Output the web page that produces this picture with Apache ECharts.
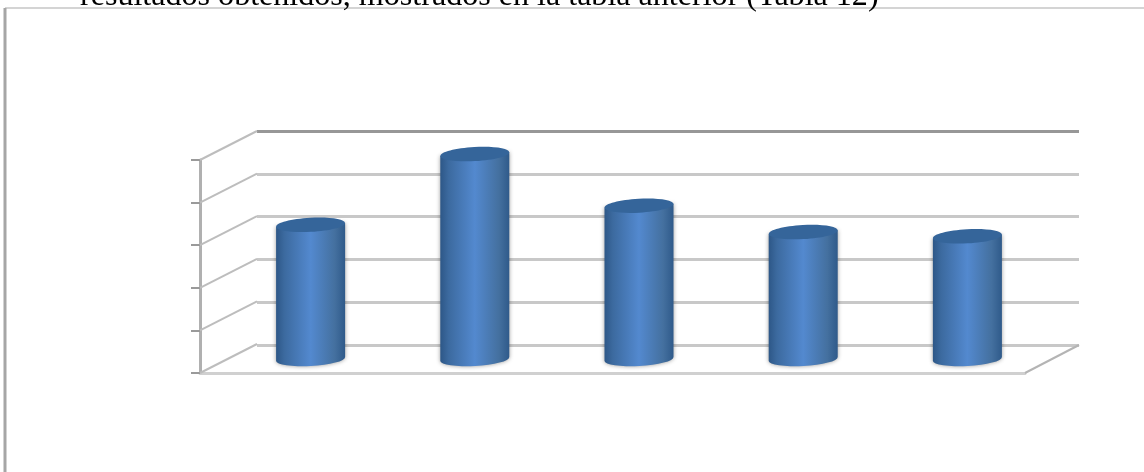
<!DOCTYPE html>
<html><head><meta charset="utf-8">
<style>html,body{margin:0;padding:0;background:#fff}#c{width:1144px;height:472px;filter:blur(0.45px)}</style>
<script src="https://cdn.jsdelivr.net/npm/echarts@6/dist/echarts.min.js"></script>
</head><body><div id="c"></div>
<script>
const categories = ['1', '2', '3', '4', '5'];
const values = [3.15, 4.81, 3.6, 2.98, 2.88];
const wallLevels = [0, 1, 2, 3, 4, 5];
const heading = 'resultados obtenidos, mostrados en la tabla anterior (Tabla 12)';

const depth = [55, -28];
const chart = echarts.init(document.getElementById('c'), null, {renderer: 'canvas'});

function cylinder(params, api) {
  const i = api.value(0), v = api.value(1);
  const base = api.coord([i, 0]), top = api.coord([i, v]);
  const cx = base[0] + depth[0] / 2 + 1, by = base[1] + depth[1] / 2;
  const ty = top[1] + depth[1] / 2;
  const rx = 34.5, ry = 7, tilt = 0.055;
  const dy = rx * tilt;
  const grad = new echarts.graphic.LinearGradient(0, 0, 1, 0, [
    {offset: 0, color: '#2d5787'},
    {offset: 0.12, color: '#3c6a9f'},
    {offset: 0.5, color: '#5389cf'},
    {offset: 0.85, color: '#44709f'},
    {offset: 1, color: '#2f5a8a'}
  ]);
  const body = 'M' + (cx - rx) + ' ' + (ty + dy) + 'L' + (cx + rx) + ' ' + (ty - dy) +
    'L' + (cx + rx) + ' ' + (by - dy) +
    'A' + rx + ' ' + ry + ' ' + (-tilt * 180 / Math.PI) + ' 0 1 ' + (cx - rx) + ' ' + (by + dy) + 'Z';
  return {type: 'group', children: [
    {type: 'path', shape: {pathData: body},
      style: {fill: grad, shadowBlur: 4, shadowColor: 'rgba(0,0,0,0.4)'}},
    {type: 'ellipse', shape: {cx: cx, cy: ty, rx: rx, ry: ry}, originX: cx, originY: ty, rotation: tilt,
      style: {fill: '#35659a'}}
  ]};
}

function diagonal(params, api) {
  const v = api.value(1);
  const x = params.coordSys.x;
  const y = api.coord([0, v])[1];
  return {type: 'line', shape: {x1: x, y1: y, x2: x + 57, y2: y - 29},
    style: {stroke: '#bdbdbd', lineWidth: 2}};
}
function floorEdge(params, api) {
  const x = params.coordSys.x + params.coordSys.width;
  const y = params.coordSys.y + params.coordSys.height;
  return {type: 'line', shape: {x1: x, y1: y, x2: x + 54, y2: y - 28},
    style: {stroke: '#b4b4b4', lineWidth: 2}};
}

chart.setOption({
  animation: false,
  backgroundColor: '#fff',
  graphic: [
    {type: 'line', shape: {x1: 5, y1: 8, x2: 1144, y2: 8}, style: {stroke: '#d4d4d4', lineWidth: 2}, z: 1},
    {type: 'line', shape: {x1: 5, y1: 8, x2: 5, y2: 472}, style: {stroke: '#a6a6a6', lineWidth: 3}, z: 1},
    {type: 'text', x: 80, y: -19, z: 2, style: {text: heading, font: '32.1px "Liberation Serif"', fill: '#000'}}
  ],
  grid: [
    {left: 200, right: 119, top: 160, bottom: 99},
    {left: 257, right: 65, top: 131, bottom: 127},
    {left: 200, width: 821, top: 160, bottom: 99}
  ],
  xAxis: [
    {gridIndex: 0, type: 'category', data: categories,
      axisLabel: {show: false}, axisTick: {show: false},
      axisLine: {show: true, lineStyle: {color: '#d0d0d0', width: 3}}},
    {gridIndex: 1, type: 'category', data: categories,
      axisLabel: {show: false}, axisTick: {show: false}, axisLine: {show: false}},
    {gridIndex: 2, type: 'category', data: categories,
      axisLabel: {show: false}, axisTick: {show: false}, axisLine: {show: false}}
  ],
  yAxis: [
    {gridIndex: 0, type: 'value', min: 0, max: 5, interval: 1,
      axisLabel: {show: false}, splitLine: {show: false},
      axisLine: {show: true, lineStyle: {color: '#b0b0b0', width: 3}},
      axisTick: {show: true, length: 9, lineStyle: {color: '#9a9a9a', width: 2}}},
    {gridIndex: 1, type: 'value', min: 0, max: 5, interval: 1,
      axisLabel: {show: false}, axisTick: {show: false}, axisLine: {show: false},
      splitLine: {show: true, lineStyle: {color: ['#c8c8c8', '#c8c8c8', '#c8c8c8', '#c8c8c8', '#c8c8c8', '#979797'], width: 3}}},
    {gridIndex: 2, type: 'value', min: 0, max: 5, interval: 1,
      axisLabel: {show: false}, axisTick: {show: false}, axisLine: {show: false}, splitLine: {show: false}}
  ],
  series: [
    {type: 'custom', xAxisIndex: 0, yAxisIndex: 0, renderItem: diagonal, z: 1, clip: false,
      data: wallLevels.map(v => [0, v]), encode: {x: 0, y: 1}, silent: true},
    {type: 'custom', xAxisIndex: 0, yAxisIndex: 0, renderItem: floorEdge, z: 1, clip: false,
      data: [[0, 0]], encode: {x: 0, y: 1}, silent: true},
    {type: 'custom', xAxisIndex: 2, yAxisIndex: 2, renderItem: cylinder, z: 5, clip: false,
      data: values.map((v, i) => [i, v]), encode: {x: 0, y: 1}}
  ]
});
</script></body></html>
